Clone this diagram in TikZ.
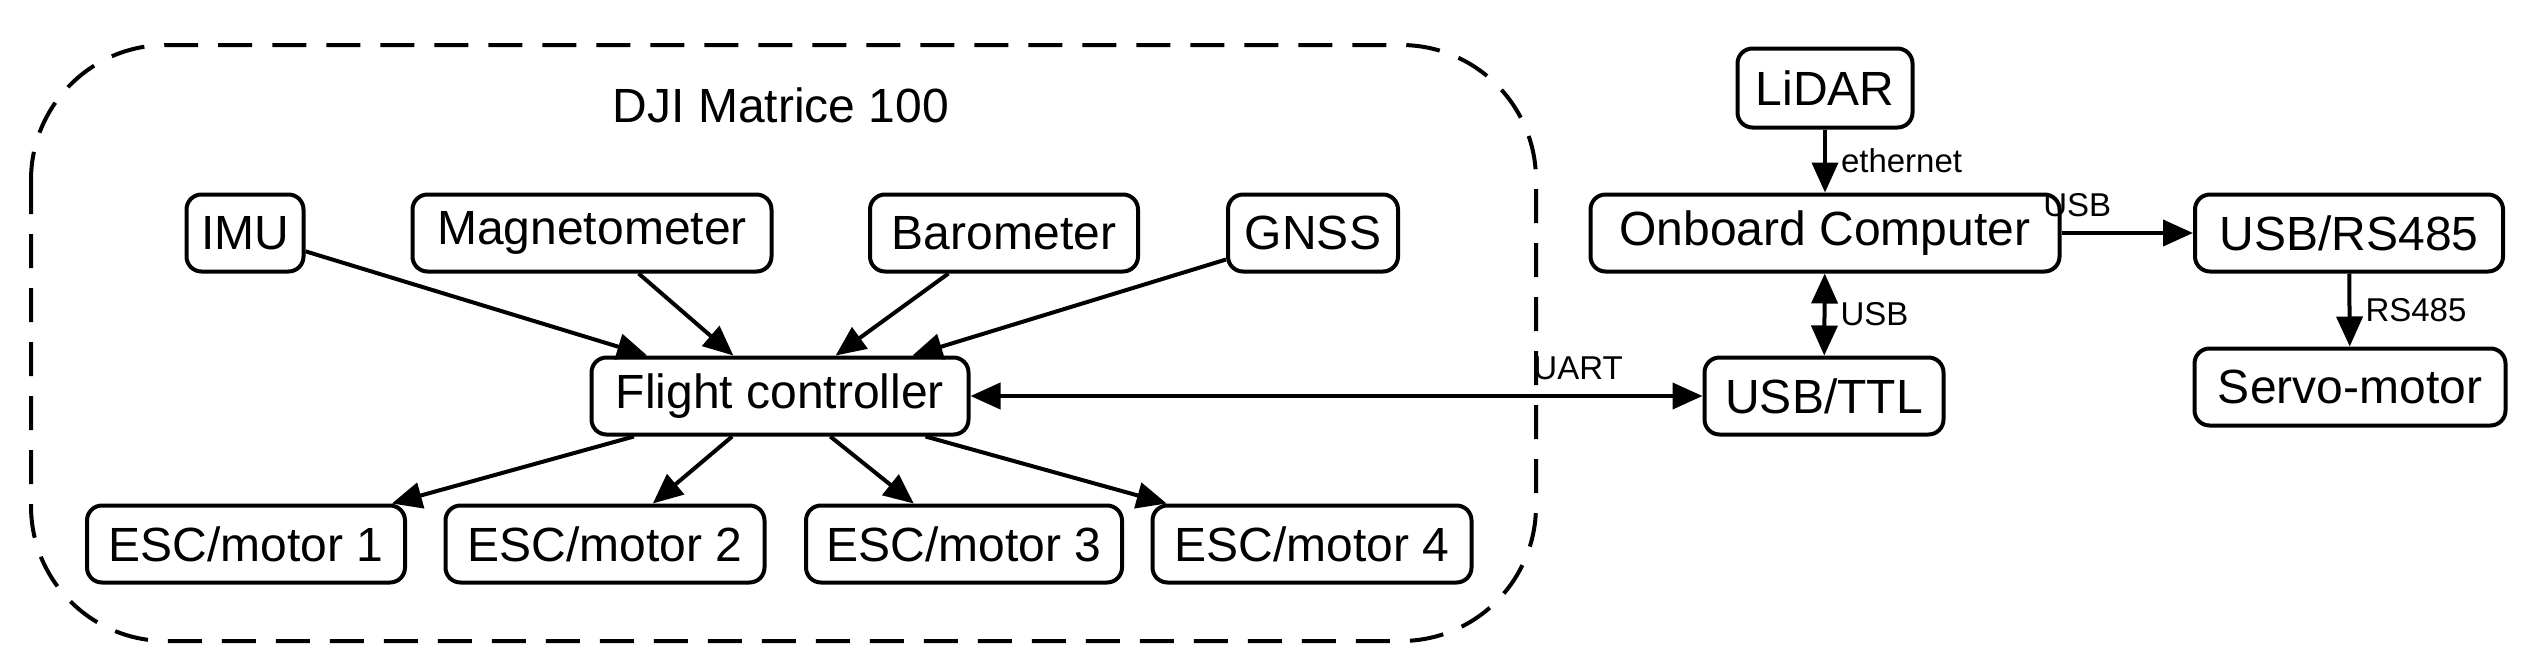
\documentclass[tikz,border=0pt]{standalone}
\usepackage{fontspec}
\setmainfont{Liberation Sans}
\usetikzlibrary{arrows.meta}
\begin{document}
\begin{tikzpicture}[x=1pt,y=-1pt,
  box/.style={draw,line width=4pt,rounded corners=15pt,minimum height=77pt,inner sep=0pt,font=\fontsize{48}{50}\selectfont},
  arr/.style={line width=4pt,-{Triangle[length=30pt,width=26pt]}},
  lab/.style={font=\fontsize{33}{35}\selectfont,inner sep=0pt}]
\useasboundingbox (0,0) rectangle (2541,672);
\draw[line width=4pt,dash pattern=on 34pt off 20pt,rounded corners=135pt] (31,45) rectangle (1536,641);
\node[font=\fontsize{48}{50}\selectfont] (title) at (781,105) {DJI Matrice 100};
\node[box,minimum width=117pt] (imu) at (245,233) {IMU};
\node[box,minimum width=359pt] (mag) at (592,233) {Magnetometer};
\node[box,minimum width=268pt] (baro) at (1004,233) {Barometer};
\node[box,minimum width=170pt] (gnss) at (1313,233) {GNSS};
\node[box,minimum width=377pt] (fc) at (780,396) {Flight controller};
\node[box,minimum width=318pt] (e1) at (246,544) {ESC/motor 1};
\node[box,minimum width=319pt] (e2) at (605,544) {ESC/motor 2};
\node[box,minimum width=316pt] (e3) at (964,544) {ESC/motor 3};
\node[box,minimum width=319pt] (e4) at (1312,544) {ESC/motor 4};
\node[box,minimum width=175pt,minimum height=79pt] (lidar) at (1825,88) {LiDAR};
\node[box,minimum width=469pt] (obc) at (1825,233) {Onboard Computer};
\node[box,minimum width=308pt] (rs) at (2349,233) {USB/RS485};
\node[box,minimum width=239pt] (ttl) at (1824,396) {USB/TTL};
\node[box,minimum width=311pt] (servo) at (2350,387) {Servo-motor};
\foreach \s in {imu,mag,baro,gnss} \draw[arr] (\s) -- (fc);
\foreach \s in {e1,e2,e3,e4} \draw[arr] (fc) -- (\s);
\draw[arr,{Triangle[length=30pt,width=26pt]}-{Triangle[length=30pt,width=26pt]}] (fc) -- (ttl) node[lab,pos=0.83,above=14pt] {UART};
\draw[arr] (lidar) -- (obc) node[lab,midway,right=14pt] {ethernet};
\draw[arr,{Triangle[length=30pt,width=26pt]}-{Triangle[length=30pt,width=26pt]}] (obc) -- (ttl) node[lab,midway,right=14pt] {USB};
\draw[arr] (obc) -- (rs) node[lab,pos=0.12,above=14pt] {USB};
\draw[arr] (rs) -- (servo) node[lab,midway,right=14pt] {RS485};
\end{tikzpicture}
\end{document}
